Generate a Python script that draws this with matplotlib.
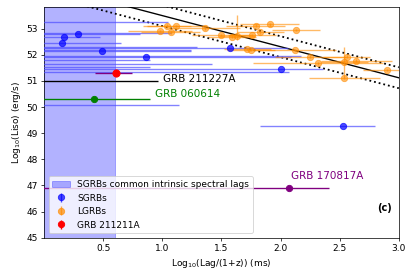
import numpy as np
import matplotlib
matplotlib.use("Agg")
import matplotlib.pyplot as plt

# ---------------- data ----------------
# SGRBs (log lag, log Liso, lower x err, upper x err)
sgrb_lag = [0.17, 0.155, 0.29, 0.49, 0.865, 1.57, 2.00, 2.525,
            -0.5, -0.5, -0.5, -0.5, -0.5, -0.5, -0.5, -0.5, -0.5, -0.5]
sgrb_lum = [52.67, 52.44, 52.79, 52.13, 51.93, 52.26, 51.45, 49.28,
            53.27, 52.82, 52.29, 52.18, 51.97, 51.80, 51.64, 51.54, 51.34, 50.08]
sgrb_elo = [0.30, 0.50, 0.50, 0.75, 1.20, 1.70, 2.50, 0.70,
            0.5, 0.5, 0.5, 0.5, 0.5, 0.5, 0.5, 0.5, 0.5, 0.5]
sgrb_ehi = [0.30, 0.50, 0.52, 0.75, 1.22, 0.49, 0.36, 0.27,
            1.55, 1.57, 1.79, 1.74, 2.67, 1.40, 1.92, 1.40, 2.57, 1.64]

# LGRBs
lgrb_lag = [0.98, 1.04, 1.07, 1.12, 1.36, 1.50, 1.59, 1.63, 1.76, 1.79, 1.83,
            1.91, 2.13, 1.72, 1.75, 2.12, 2.25, 2.32, 2.54, 2.56, 2.64, 2.54, 2.90]
lgrb_lum = [52.91, 53.12, 52.86, 53.10, 53.01, 52.76, 52.69, 52.73, 52.76, 53.11, 52.86,
            53.17, 52.95, 52.22, 52.18, 52.18, 51.93, 51.67, 51.74, 51.93, 51.77, 51.12, 51.42]
lgrb_xerr = [0.27, 0.20, 0.25, 0.25, 0.30, 0.25, 0.20, 0.15, 0.20, 0.25, 0.20,
             0.25, 0.20, 0.20, 0.20, 0.35, 0.30, 0.55, 0.20, 0.20, 0.30, 0.30, 0.20]
lgrb_ylo = [0.05, 0.05, 0.05, 0.05, 0.05, 0.05, 0.05, 0.16, 0.05, 0.05, 0.05,
            0.05, 0.05, 0.05, 0.05, 0.05, 0.05, 0.05, 0.58, 0.05, 0.05, 0.05, 0.05]
lgrb_yhi = [0.05, 0.05, 0.05, 0.05, 0.05, 0.05, 0.05, 0.79, 0.05, 0.05, 0.05,
            0.05, 0.05, 0.05, 0.05, 0.05, 0.05, 0.05, 0.57, 0.05, 0.05, 0.05, 0.05]

# special bursts
grb211211a = dict(lag=0.61, lum=51.31, elo=0.18, ehi=0.13)
grb211227a = dict(lag=-0.30, lum=51.00, elo=0.30, ehi=1.26)
grb060614 = dict(lag=0.42, lum=50.30, elo=0.60, ehi=0.48)
grb170817a = dict(lag=2.07, lum=46.91, elo=2.30, ehi=0.34)

# relation and band
fit_slope = -1.19
fit_icept = 54.69
band_half = 0.40
sgrb_span = (0.0, 0.60)

xticks = [0.5, 1.0, 1.5, 2.0, 2.5, 3.0]
yticks = [45, 46, 47, 48, 49, 50, 51, 52, 53]

# ---------------- figure ----------------
dpi = 65
fig = plt.figure(figsize=(415 / dpi, 279 / dpi), dpi=dpi)
ax = fig.add_axes([0.106, 0.148, 0.855, 0.827])

span = ax.axvspan(*sgrb_span, color="blue", alpha=0.3, lw=1,
                  label="SGRBs common intrinsic spectral lags")

ax.errorbar(sgrb_lag, sgrb_lum, xerr=[sgrb_elo, sgrb_ehi], fmt="o", color="blue",
            ecolor=(0.3, 0.3, 1.0, 0.7), elinewidth=1.5, ms=7, alpha=0.7, zorder=3)
ax.errorbar(lgrb_lag, lgrb_lum, xerr=lgrb_xerr, yerr=[lgrb_ylo, lgrb_yhi], fmt="o",
            color="darkorange", elinewidth=1.5, ms=7, alpha=0.6, zorder=3)

ax.errorbar([grb211227a["lag"]], [grb211227a["lum"]],
            xerr=[[grb211227a["elo"]], [grb211227a["ehi"]]], fmt="o", color="black",
            elinewidth=1.5, ms=7, zorder=4)
ax.errorbar([grb060614["lag"]], [grb060614["lum"]],
            xerr=[[grb060614["elo"]], [grb060614["ehi"]]], fmt="o", color="green",
            elinewidth=1.5, ms=7, zorder=4)
ax.errorbar([grb170817a["lag"]], [grb170817a["lum"]],
            xerr=[[grb170817a["elo"]], [grb170817a["ehi"]]], fmt="o", color="purple",
            elinewidth=1.5, ms=7, zorder=4)
ax.errorbar([grb211211a["lag"]], [grb211211a["lum"]],
            xerr=[[grb211211a["elo"]], [grb211211a["ehi"]]], fmt="o", color="red",
            ecolor="purple", elinewidth=1.5, ms=8, zorder=5)

xx = np.linspace(0, 3, 100)
ax.plot(xx, fit_slope * xx + fit_icept, color="black", lw=1.5, zorder=2)
ax.plot(xx, fit_slope * xx + fit_icept + band_half, color="black", lw=2, ls=":", zorder=2)
ax.plot(xx, fit_slope * xx + fit_icept - band_half, color="black", lw=2, ls=":", zorder=2)

ax.text(1.01, 50.87, "GRB 211227A", color="black", fontsize=11.5, va="bottom")
ax.text(0.935, 50.30, "GRB 060614", color="green", fontsize=11.5, va="bottom")
ax.text(2.085, 47.18, "GRB 170817A", color="purple", fontsize=11.5, va="bottom")
ax.text(2.94, 46.13, "(c)", fontsize=11, fontweight="bold", ha="right", va="center")

# legend proxies
h_s = ax.errorbar([np.nan], [np.nan], yerr=[1], fmt="o", color="blue", ms=7, alpha=0.7,
                  label="SGRBs")
h_l = ax.errorbar([np.nan], [np.nan], yerr=[1], fmt="o", color="darkorange", ms=7,
                  alpha=0.7, label="LGRBs")
h_r = ax.errorbar([np.nan], [np.nan], yerr=[1], fmt="o", color="red", ms=7,
                  label="GRB 211211A")
ax.legend(handles=[span, h_s, h_l, h_r], loc="lower left", fontsize=10)

ax.set_xlim(0, 3.0)
ax.set_ylim(45, 53.83)
ax.set_xticks(xticks)
ax.set_yticks(yticks)
ax.set_xlabel("Log$_{10}$(Lag/(1+z)) (ms)")
ax.set_ylabel("Log$_{10}$(Liso) (erg/s)")

fig.savefig("out.png", dpi=dpi)
